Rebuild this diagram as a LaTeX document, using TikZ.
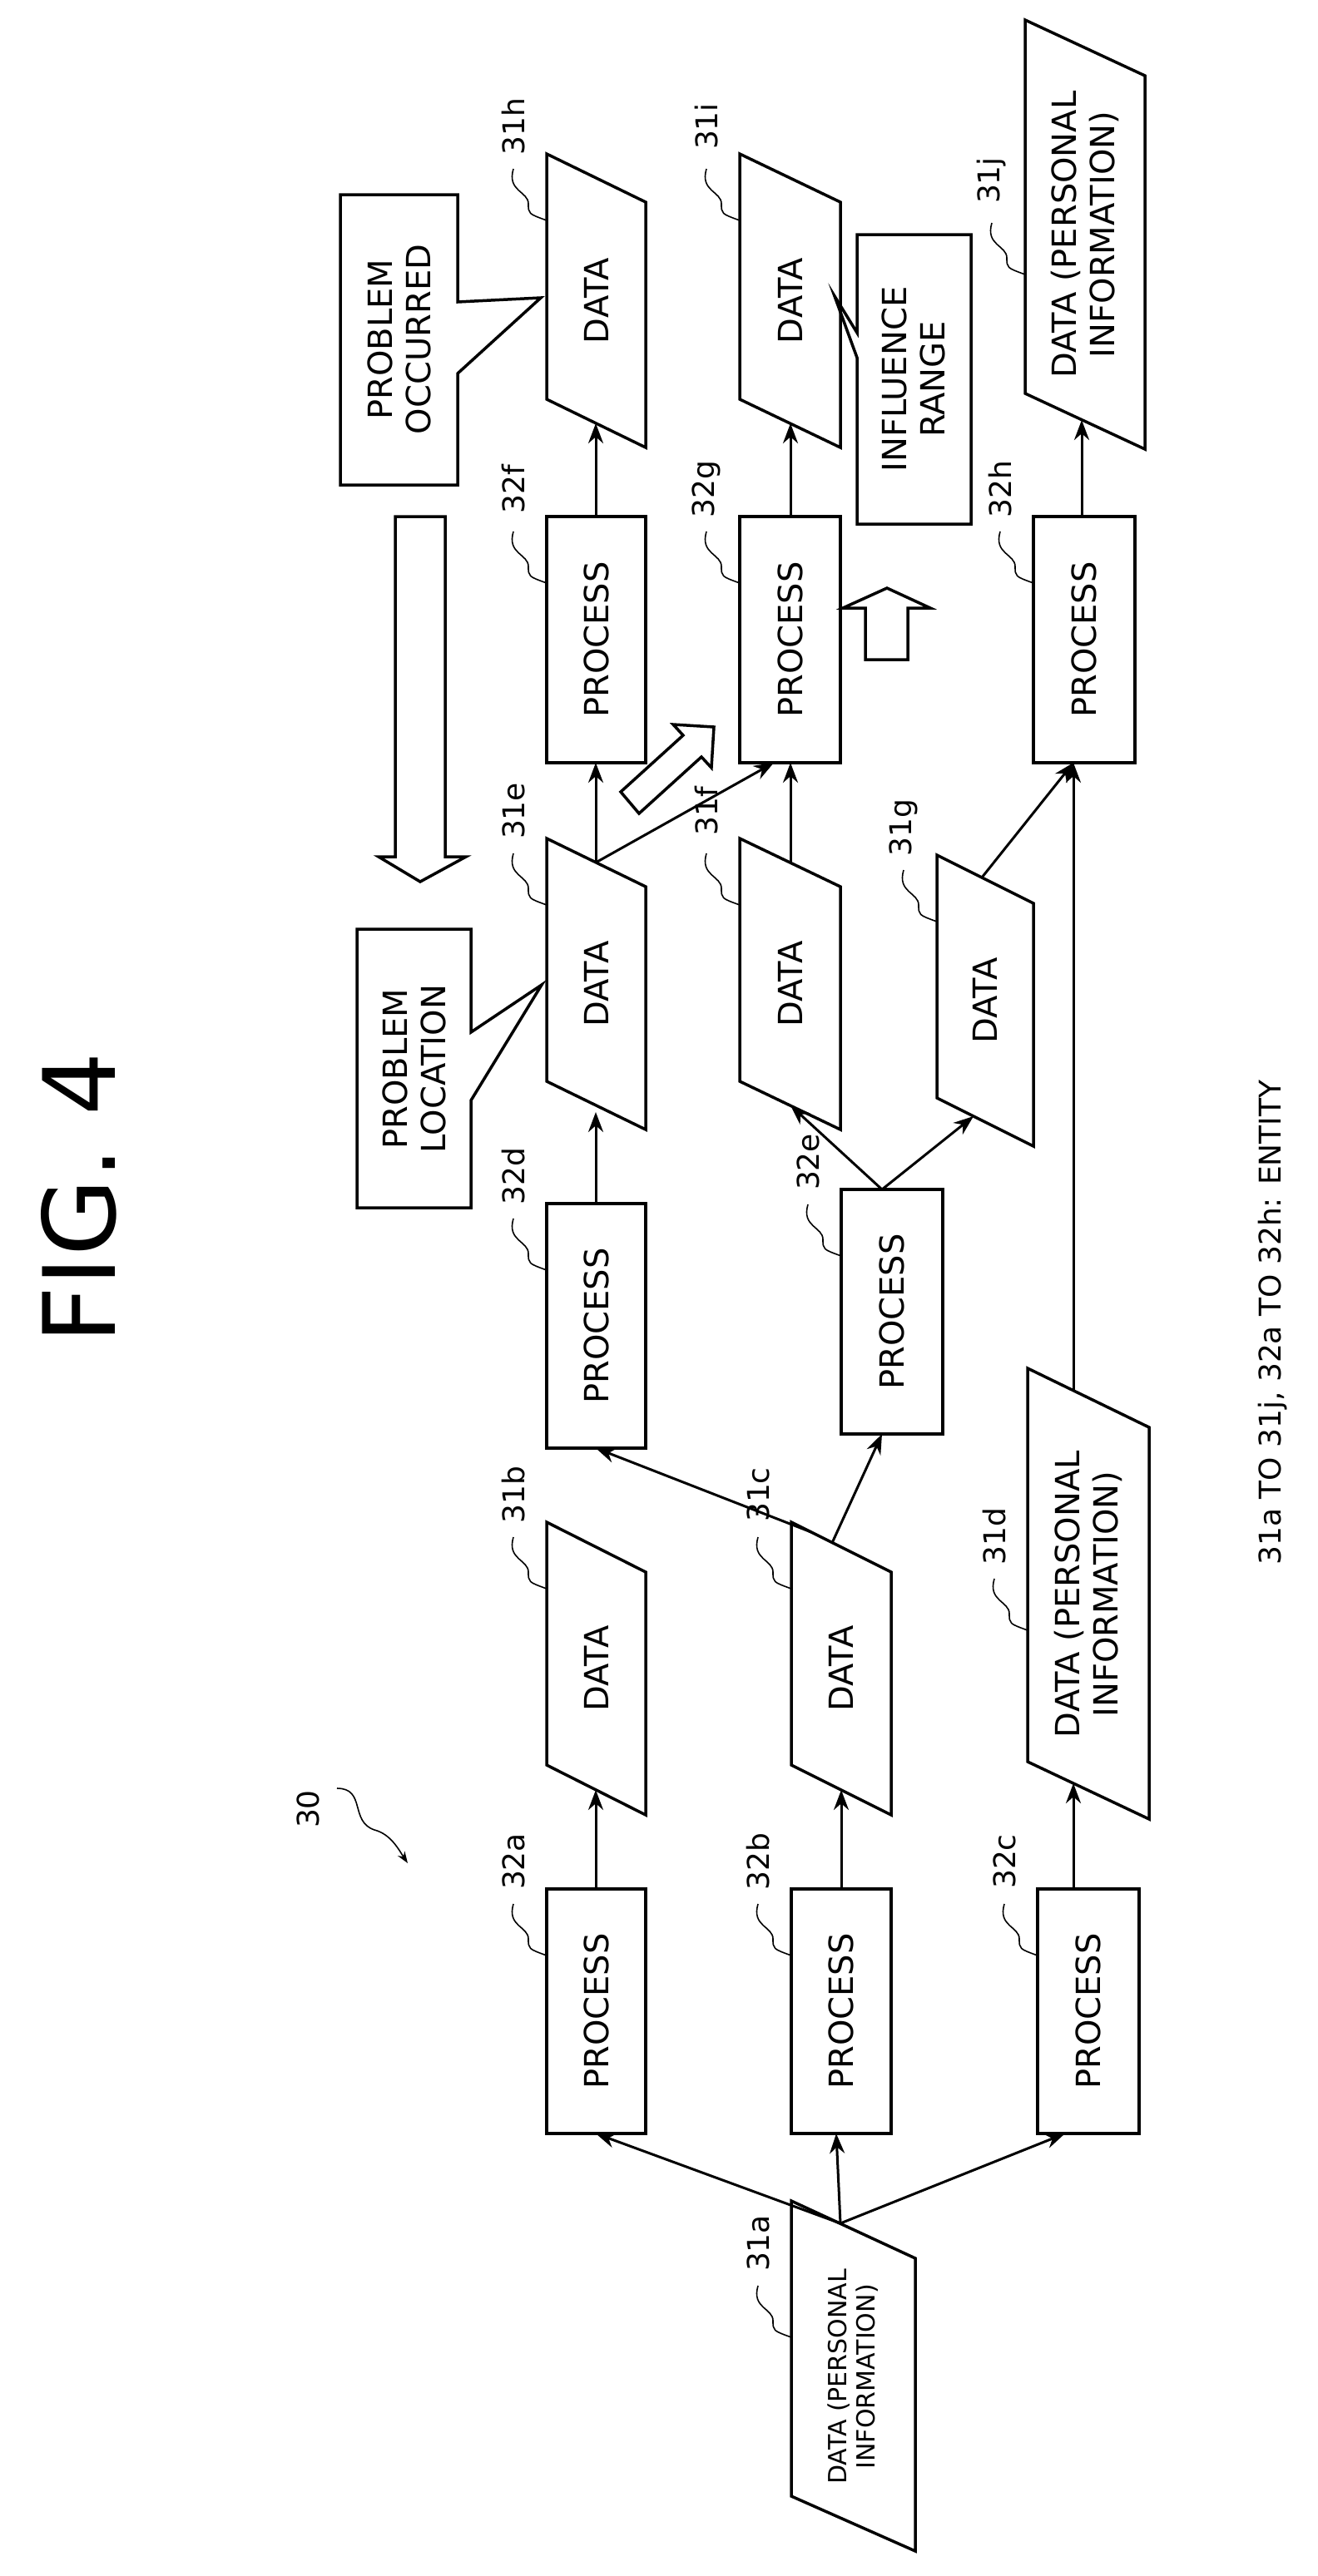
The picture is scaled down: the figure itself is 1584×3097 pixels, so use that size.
\documentclass[tikz,border=0pt]{standalone}
\usepackage{fontspec}
\setmainfont{DejaVu Sans}
\usetikzlibrary{arrows.meta,calc}
\begin{document}
\begin{tikzpicture}[x=1pt,y=-1pt,
  box/.style={line width=3.5pt},
  txt/.style={rotate=90,font=\fontsize{40}{46}\selectfont,align=center,inner sep=0pt},
  sml/.style={rotate=90,font=\fontsize{30}{34}\selectfont,align=center,inner sep=0pt},
  lbl/.style={rotate=90,font=\fontsize{36}{40}\selectfont,inner sep=0pt},
  arr/.style={line width=3pt,-{Stealth[length=24pt,width=18pt]}},
  lead/.style={line width=1.6pt}]
\useasboundingbox (0,0) rectangle (1584,3097);
% process boxes
\newcommand{\proc}[5]{\draw[box] (#2,#4) rectangle (#3,#5);
  \node[txt] (#1) at ({(#2+#3)/2},{(#4+#5)/2}) {PROCESS};
  \coordinate (#1-t) at ({(#2+#3)/2},#4); \coordinate (#1-b) at ({(#2+#3)/2},#5);}
% data parallelograms: name x1 x2 yL1 yL2 yR1 yR2 style text
\newcommand{\dat}[9]{\draw[box] (#2,#4) -- (#3,#6) -- (#3,#7) -- (#2,#5) -- cycle;
  \node[#8] (#1) at ({(#2+#3)/2},{(#4+#5+#6+#7)/4}) {#9};}
\newcommand{\lab}[3]{\node[lbl] at ({#1-40},{#2-113}) {#3};
  \draw[lead] ({#1-40},{#2-62}) .. controls ({#1-48},{#2-35}) and ({#1-22},{#2-35}) .. ({#1-22},{#2-20}) .. controls ({#1-22},{#2-8}) .. (#1,#2);}
\proc{32f}{657}{776}{621}{917}
\proc{32g}{889}{1010}{621}{917}
\proc{32h}{1242}{1364}{621}{917}
\proc{32d}{657}{776}{1447}{1741}
\proc{32e}{1011}{1133}{1430}{1724}
\proc{32a}{657}{776}{2271}{2565}
\proc{32b}{951}{1071}{2271}{2565}
\proc{32c}{1247}{1369}{2271}{2565}
\dat{31h}{657}{776}{185}{480}{243}{538}{txt}{DATA}
\dat{31i}{889}{1010}{185}{480}{243}{538}{txt}{DATA}
\dat{31j}{1232}{1376}{24}{473}{91}{540}{txt}{DATA (PERSONAL\\INFORMATION)}
\dat{31e}{657}{776}{1008}{1300}{1066}{1358}{txt}{DATA}
\dat{31f}{889}{1010}{1008}{1300}{1066}{1358}{txt}{DATA}
\dat{31g}{1126}{1242}{1028}{1320}{1086}{1378}{txt}{DATA}
\dat{31b}{657}{776}{1830}{2122}{1890}{2182}{txt}{DATA}
\dat{31c}{951}{1071}{1830}{2122}{1890}{2182}{txt}{DATA}
\dat{31d}{1235}{1381}{1645}{2118}{1716}{2187}{txt}{DATA (PERSONAL\\INFORMATION)}
\dat{31a}{951}{1100}{2646}{3001}{2715}{3067}{sml}{DATA (PERSONAL\\INFORMATION)}
% connector endpoints
\coordinate (a0) at (1010,2673);
\coordinate (b0) at (716,2152); \coordinate (c0) at (1011,2152); \coordinate (d0) at (1290,2144);
\coordinate (c1) at (975,1842); \coordinate (c2) at (1000,1855);
\coordinate (e0) at (716,1337); \coordinate (f0) at (950,1329); \coordinate (g0) at (1170,1342);
\coordinate (e1) at (716,1037); \coordinate (f1) at (950,1037); \coordinate (g1) at (1180,1055);
\coordinate (d1) at (1290,1672);
\coordinate (h0) at (716,509); \coordinate (i0) at (950,509); \coordinate (j0) at (1300,505);
\draw[arr] (a0) -- (716,2565);
\draw[arr] (a0) -- (1005,2565);
\draw[arr] (a0) -- (1280,2565);
\draw[arr] (716,2271) -- (b0);
\draw[arr] (1011,2271) -- (c0);
\draw[arr] (1290,2271) -- (d0);
\draw[arr] (c1) -- (716,1741);
\draw[arr] (c2) -- (1060,1724);
\draw[arr] (716,1447) -- (e0);
\draw[arr] (1060,1430) -- (f0);
\draw[arr] (1060,1430) -- (g0);
\draw[arr] (e1) -- (716,917);
\draw[arr] (e1) -- (930,917);
\draw[arr] (f1) -- (950,917);
\draw[arr] (g1) -- (1290,917);
\draw[arr] (d1) -- (1290,917);
\draw[arr] (716,621) -- (h0);
\draw[arr] (950,621) -- (i0);
\draw[arr] (1300,621) -- (j0);
% labels
\lab{657}{701}{32f}
\lab{889}{701}{32g}
\lab{1242}{701}{32h}
\lab{657}{1527}{32d}
\lab{1011}{1510}{32e}
\lab{657}{2351}{32a}
\lab{951}{2351}{32b}
\lab{1247}{2351}{32c}
\lab{657}{265}{31h}
\lab{889}{265}{31i}
\lab{1232}{330}{31j}
\lab{657}{1088}{31e}
\lab{889}{1088}{31f}
\lab{1126}{1108}{31g}
\lab{657}{1910}{31b}
\lab{951}{1910}{31c}
\lab{1235}{1960}{31d}
\lab{951}{2810}{31a}
% 30
\node[lbl] (n30) at (370,2175) {30};
\draw[line width=1.6pt,-{Stealth[length=14pt,width=10pt]}] (405,2150) .. controls (440,2150) and (420,2190) .. (450,2200) .. controls (470,2205) and (480,2225) .. (490,2240);
% callouts
\draw[box] (409,234) -- (550,234) -- (550,363) -- (650,358) -- (550,449) -- (550,583) -- (409,583) -- cycle;
\node[txt] (po) at (480,408) {PROBLEM\\OCCURRED};
\draw[box] (429,1117) -- (566,1117) -- (566,1241) -- (651,1184) -- (566,1323) -- (566,1452) -- (429,1452) -- cycle;
\node[txt] (pl) at (498,1285) {PROBLEM\\LOCATION};
\draw[box] (1030,282) -- (1167,282) -- (1167,630) -- (1030,630) -- (1030,430) -- (1003,356) -- (1030,400) -- cycle;
\node[txt] (ir) at (1098,456) {INFLUENCE\\RANGE};
% hollow arrows
\draw[box] (475,621) -- (535,621) -- (535,1030) -- (560,1030) -- (505,1060) -- (455,1030) -- (475,1030) -- cycle;
\draw[box] (1040,793) -- (1091,793) -- (1091,731) -- (1118,731) -- (1066,707) -- (1013,731) -- (1040,731) -- cycle;
\draw[box] (746,952) -- (821,884) -- (809,871) -- (858,874) -- (855,923) -- (843,910) -- (768,978) -- cycle;
% title and caption
\node[rotate=90,font=\fontsize{120}{130}\selectfont] (fig) at (95,1440) {FIG.\ 4};
\node[lbl] (cap) at (1530,1590) {31a TO 31j, 32a TO 32h: ENTITY};
\end{tikzpicture}
\end{document}
